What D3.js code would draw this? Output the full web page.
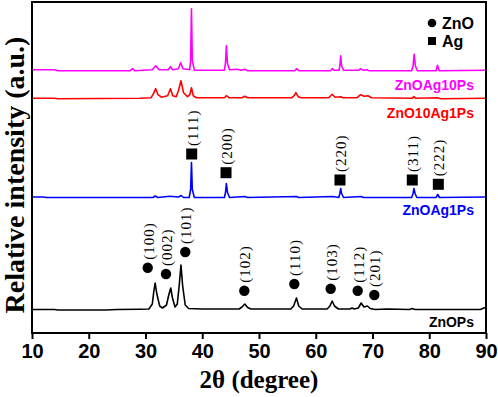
<!DOCTYPE html>
<html>
<head>
<meta charset="utf-8">
<script src="https://cdn.jsdelivr.net/npm/d3@7"></script>
<style>
  body { margin: 0; background: #fff; }
  svg { display: block; }
</style>
</head>
<body>
<div id="chart"></div>
<script>
// XRD patterns, [2theta, intensity above own baseline]
const znoPs = [[10,0.5],[14,0.5],[14.5,0],[23,0],[25,0.5],[29,0.8],[30.6,1],[31.2,6],[31.45,18],[31.7,27],[32,16],[32.5,4],[33,2],
  [33.7,5],[34.1,15],[34.45,22],[34.75,12],[35.2,3],[35.6,6],[35.95,25],[36.25,45],[36.55,24],[37,5],[37.6,1.5],[40,1],
  [46.5,1],[47,3],[47.5,6],[48,2.5],[48.6,1],[55.6,1],[56.1,4],[56.6,12],[57,4],[57.6,1],[62,1],[62.5,4],[62.9,9],[63.3,4],
  [64,1],[66,1],[66.4,2],[66.8,1],[67.5,2],[68,7],[68.5,3],[69.1,4],[69.6,1.5],[70.5,0.5],[72.6,1],[76.5,0.5],[77,1.5],
  [77.5,0.5],[89,0.5],[89.6,2],[90,2.5]];
const znoAg1Ps = [[10,0.5],[12,0.5],[12.5,0],[31.3,0],[31.7,1.5],[32.2,0],[34.3,1.2],[35.8,0.5],[36.3,2],[36.7,0],[37.7,0],
  [37.95,8],[38.1,35],[38.25,8],[38.6,0],[43.9,0],[44.1,5],[44.25,14],[44.45,5],[44.8,0],[47.5,1],[48,0],[56.6,1],[57,0],
  [63,1],[64.05,0],[64.25,4],[64.4,9],[64.55,4],[64.9,0],[68,1],[68.4,0],[76.9,0],[77.15,4],[77.3,9],[77.5,4],[77.8,0],
  [81.2,0],[81.5,3],[81.8,0],[90,0.5]];
const zno10Ag1Ps = [[10,0.5],[14,0.5],[14.5,0],[29,0.5],[31,1],[31.4,5],[31.8,10],[32.2,4],[32.8,1.5],[33.9,3],[34.4,10],
  [34.8,3],[35.4,2],[35.8,8],[36.25,18],[36.7,6],[37.4,2],[37.8,4],[38.1,11],[38.4,3],[39,1],[43.9,1],[44.25,3],[44.7,1],
  [47,1],[47.5,2.5],[48,1],[55.8,1],[56.2,3],[56.5,6],[56.9,2],[57.5,1],[62.3,1],[62.9,4.4],[63.4,1.5],[64.4,2],[64.8,1],
  [67.3,1],[67.9,4],[68.5,2.5],[69.2,3],[69.8,1],[77,0.5],[77.3,2],[77.6,0.5],[81.5,1],[82,0],[90,0.5]];
const znoAg10Ps = [[10,1],[14,1],[14.5,0],[27.3,0],[27.7,2],[28.1,0],[31.2,1],[31.8,5],[32.4,1],[34,1],[34.4,4],[34.8,1],
  [35.8,2],[36.2,8],[36.6,2],[37.8,1],[37.95,10],[38.1,62],[38.25,10],[38.6,0.5],[43.9,0.5],[44.1,8],[44.25,25],[44.45,7],
  [44.8,1],[46.2,1.5],[46.8,0.5],[47.5,1.5],[48,0],[56.3,0],[56.6,2],[57,0],[62.6,0],[62.9,2],[63.2,0.5],[64.1,0.5],
  [64.25,5],[64.4,15],[64.55,5],[64.9,0.5],[67.6,0.5],[67.9,2],[68.3,0.5],[69,1],[69.4,0],[76.9,0],[77.15,5],[77.35,16.4],
  [77.55,5],[77.9,0],[81.2,0],[81.45,5.4],[81.75,0],[90,0.5]];

const seriesData = [znoPs, znoAg1Ps, zno10Ag1Ps, znoAg10Ps];
const seriesNames = ["ZnOPs", "ZnOAg1Ps", "ZnO10Ag1Ps", "ZnOAg10Ps"];
const seriesOffsets = [23, 135.5, 234.3, 262.3];
const seriesColors = ["#000000", "#0000ff", "#ff0000", "#ff00ff"];
const seriesLabelY = [6.5, 117.8, 215, 243.2];

// ZnO reflections (marker position in 2theta / intensity units)
const znoHkl = ["(100)", "(002)", "(101)", "(102)", "(110)", "(103)", "(112)", "(201)"];
const znoMarkT = [30.39, 33.61, 37.01, 47.41, 56.22, 62.63, 67.39, 70.32];
const znoMarkI = [65.3, 59, 81, 42.3, 49, 44.3, 42.3, 38];

// Ag reflections
const agHkl = ["(111)", "(200)", "(220)", "(311)", "(222)"];
const agMarkT = [38.14, 44.19, 64.27, 77.01, 81.6];
const agMarkI = [179, 160.3, 153, 153, 148.7];

const xTicks = [10, 20, 30, 40, 50, 60, 70, 80, 90];

const W = 498, H = 397;
const margin = {top: 2, right: 12, bottom: 64, left: 32};
const innerW = W - margin.left - margin.right;
const innerH = H - margin.top - margin.bottom;

const svg = d3.select("#chart").append("svg")
  .attr("width", W)
  .attr("height", H);

const g = svg.append("g").attr("transform", `translate(${margin.left},${margin.top})`);

const x = d3.scaleLinear().domain([10, 90]).range([0, innerW]);
const y = d3.scaleLinear().domain([0, innerH]).range([innerH, 0]);

// patterns
seriesData.forEach((pts, i) => {
  const line = d3.line()
    .x(d => x(d[0]))
    .y(d => y(d[1] + seriesOffsets[i]));
  g.append("path")
    .datum(pts)
    .attr("d", line)
    .attr("fill", "none")
    .attr("stroke", seriesColors[i])
    .attr("stroke-width", 1.6)
    .attr("stroke-linejoin", "round");

  g.append("text")
    .attr("x", innerW - 12)
    .attr("y", y(seriesLabelY[i]))
    .attr("text-anchor", "end")
    .style("font-family", "'Liberation Sans', Arial, sans-serif")
    .style("font-weight", "bold")
    .style("font-size", "14px")
    .attr("fill", seriesColors[i])
    .text(seriesNames[i]);
});

// hkl labels
function hklLabel(t, iv, txt) {
  g.append("text")
    .attr("transform", `translate(${x(t) + 1},${y(iv) - 8}) rotate(-90)`)
    .attr("dominant-baseline", "central")
    .style("font-family", "'Liberation Serif', 'Times New Roman', serif")
    .style("font-size", "15px")
    .style("letter-spacing", "1px")
    .text(txt);
}

znoHkl.forEach((h, i) => {
  g.append("circle")
    .attr("cx", x(znoMarkT[i]))
    .attr("cy", y(znoMarkI[i]))
    .attr("r", 5.2)
    .attr("fill", "#000");
  hklLabel(znoMarkT[i], znoMarkI[i], h);
});

agHkl.forEach((h, i) => {
  g.append("rect")
    .attr("x", x(agMarkT[i]) - 5.5)
    .attr("y", y(agMarkI[i]) - 5.5)
    .attr("width", 11)
    .attr("height", 11)
    .attr("fill", "#000");
  hklLabel(agMarkT[i], agMarkI[i], h);
});

// legend
const legend = g.append("g").attr("transform", `translate(${innerW - 54},0)`);
legend.append("circle").attr("cx", 0).attr("cy", 21).attr("r", 4.3).attr("fill", "#000");
legend.append("rect").attr("x", -4).attr("y", 35).attr("width", 8).attr("height", 8).attr("fill", "#000");
legend.selectAll("text.lg")
  .data(["ZnO", "Ag"])
  .enter().append("text")
    .attr("class", "lg")
    .attr("x", 10)
    .attr("y", (d, i) => 27 + i * 18)
    .style("font-family", "'Liberation Sans', Arial, sans-serif")
    .style("font-weight", "bold")
    .style("font-size", "16px")
    .text(d => d);

// x axis
const xAxis = g.append("g")
  .attr("transform", `translate(0,${innerH})`)
  .call(d3.axisBottom(x).tickValues(xTicks).tickSize(6).tickPadding(5).tickFormat(d3.format("d")));
xAxis.select(".domain").remove();
xAxis.selectAll(".tick line").attr("stroke-width", 2);
xAxis.selectAll(".tick text")
  .style("font-family", "'Liberation Sans', Arial, sans-serif")
  .style("font-weight", "bold")
  .style("font-size", "20px")
  .attr("fill", "#000");

// frame
g.append("rect")
  .attr("width", innerW)
  .attr("height", innerH)
  .attr("fill", "none")
  .attr("stroke", "#000")
  .attr("stroke-width", 2);

// axis titles
svg.append("text")
  .attr("x", 259)
  .attr("y", 388)
  .attr("text-anchor", "middle")
  .style("font-family", "'Liberation Serif', 'Times New Roman', serif")
  .style("font-weight", "bold")
  .style("font-size", "25px")
  .text("2θ (degree)");

svg.append("text")
  .attr("transform", `translate(24,175) rotate(-90)`)
  .attr("text-anchor", "middle")
  .style("font-family", "'Liberation Serif', 'Times New Roman', serif")
  .style("font-weight", "bold")
  .style("font-size", "28px")
  .text("Relative intensity (a.u.)");
</script>
</body>
</html>
